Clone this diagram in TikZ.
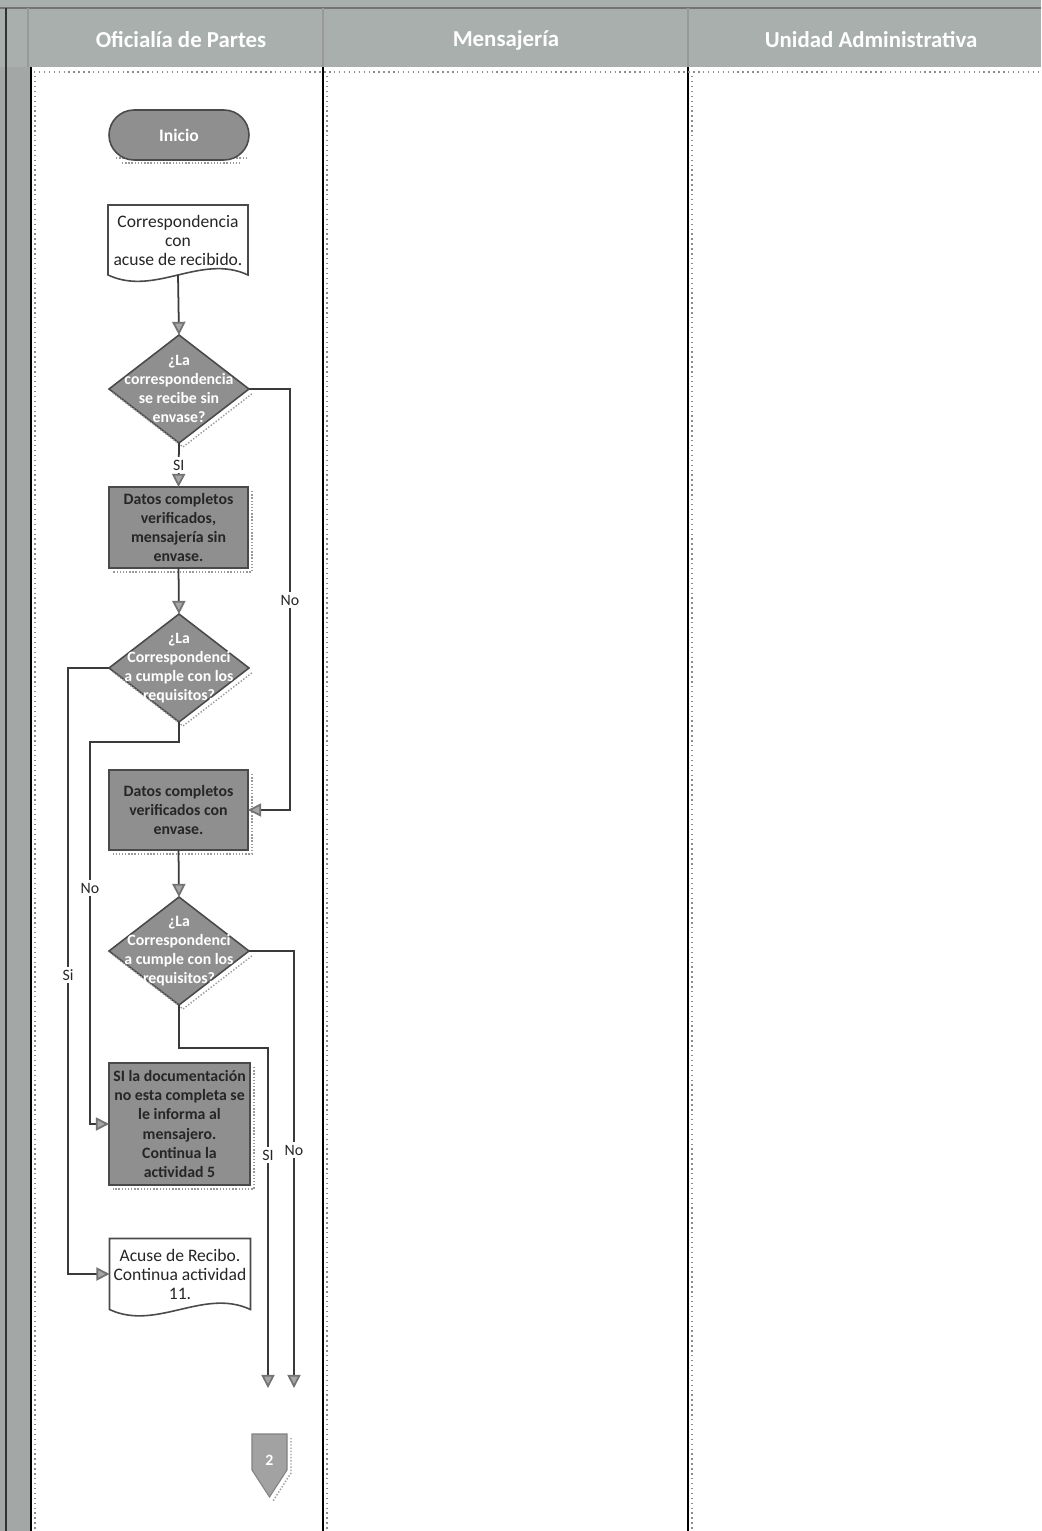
\documentclass[tikz,border=0pt]{standalone}
\usepackage{fontspec}
\setmainfont{Carlito}
\usetikzlibrary{shapes.geometric,arrows.meta,calc}
\definecolor{hdr}{HTML}{A8AFAC}
\definecolor{strip}{HTML}{A3A8A6}
\definecolor{shapefill}{HTML}{8F8F8F}
\definecolor{edgecol}{HTML}{4A4A4A}
\definecolor{linecol}{HTML}{3A3A3A}
\definecolor{connfill}{HTML}{A2A2A2}

\begin{document}
\begin{tikzpicture}[x=0.02cm,y=-0.02cm,
  every node/.style={inner sep=0pt, outer sep=0pt},
  lanetitle/.style={text=white, font=\bfseries\fontsize{13}{15}\selectfont},
  terminal/.style={rectangle, rounded corners=0.5cm, draw=edgecol, line width=0.9pt,
    fill=shapefill, minimum width=2.8cm, minimum height=1cm, text=white,
    font=\bfseries\fontsize{10}{12}\selectfont},
  docbox/.style={rectangle, minimum width=2.8cm, align=center,
    font=\fontsize{10}{10.8}\selectfont, text=black!85},
  docline/.style={draw=edgecol, line width=0.9pt, fill=white},
  procbox/.style={rectangle, draw=edgecol, line width=0.9pt, fill=shapefill,
    minimum width=2.78cm, align=center, font=\bfseries\fontsize{9}{10.9}\selectfont,
    text=black!85},
  decision/.style={diamond, draw=edgecol, line width=0.9pt, fill=shapefill,
    minimum width=2.8cm, minimum height=2.16cm},
  dectext/.style={align=center, font=\bfseries\fontsize{9}{10.9}\selectfont, text=white},
  flow/.style={draw=linecol, line width=1pt,
    -{Triangle[length=7.5pt,width=7.5pt,fill=black!35,color=black!55]}},
  tag/.style={fill=white, inner sep=1.5pt, font=\fontsize{9}{10}\selectfont, text=black!85},
  shade/.style={draw=black!40, densely dotted, line width=0.8pt},
  gridtick/.style={draw=black!45, dotted, line width=0.8pt}
]
\useasboundingbox (0,0) rectangle (1041,1531);

% ---- swimlane frame ----
\fill[hdr] (0,0) rectangle (1041,67);
\fill[strip] (0,67) rectangle (31,1531);
\fill[white] (31,67) rectangle (1041,1531);
\draw[black!55, line width=0.7pt] (0,8) -- (1041,8);
\draw[black!40, line width=0.6pt] (28,8) -- (28,67) (323,8) -- (323,67) (688,8) -- (688,67);
\draw[black!80, line width=1pt] (6,8) -- (6,1531);
\draw[black, line width=1.1pt] (31,67) -- (31,1531) (323,67) -- (323,1531) (688,67) -- (688,1531);
\draw[gridtick] (34,72) -- (1041,72);
\draw[gridtick] (35,76) -- (35,1531) (327,76) -- (327,1531) (692,76) -- (692,1531);

\node[lanetitle] (t1) at (181,40) {Oficialía de Partes};
\node[lanetitle] (t2) at (506,40) {Mensajería};
\node[lanetitle] (t3) at (871,40) {Unidad Administrativa};

% ---- start ----
\draw[shade] (116,158) -- (246,158) (122,163) -- (240,163);
\node[terminal] (ini) at (179,135) {Inicio};

% ---- document: correspondencia ----
\node[docbox, minimum height=1.4cm] (doc1) at (178,240) {};
\draw[docline] (doc1.north west) -- (doc1.north east) -- (doc1.south east)
  .. controls +(-47,-22) and +(47,22) .. (doc1.south west) -- cycle;
\node[docbox] (doc1t) at (doc1.center) {Correspondencia\\con\\acuse de recibido.};

% ---- decision 1 ----
\node[decision] (d1) at (179,389) {};
\draw[shade] ([shift={(4,4)}]d1.west) -- ([shift={(4,4)}]d1.south) -- ([shift={(4,4)}]d1.east);
\node[dectext] (d1t) at (d1.center) {¿La\\correspondencia\\se recibe sin\\envase?};

% ---- box 1 ----
\node[procbox, minimum height=1.62cm] (b1) at (178.5,527.5) {};
\draw[shade] ([shift={(4,4)}]b1.north east) -- ([shift={(4,4)}]b1.south east) -- ([shift={(4,4)}]b1.south west);
\node[procbox, draw=none, fill=none] (b1t) at (b1.center) {Datos completos\\verificados,\\mensajería sin\\envase.};

% ---- decision 2 ----
\node[decision] (d2) at (179,668) {};
\draw[shade] ([shift={(4,4)}]d2.west) -- ([shift={(4,4)}]d2.south) -- ([shift={(4,4)}]d2.east);
\node[dectext] (d2t) at (d2.center) {¿La\\Correspondenci\\a cumple con los\\requisitos?};

% ---- box 2 ----
\node[procbox, minimum height=1.6cm] (b2) at (178.5,810) {};
\draw[shade] ([shift={(4,4)}]b2.north east) -- ([shift={(4,4)}]b2.south east) -- ([shift={(4,4)}]b2.south west);
\node[procbox, draw=none, fill=none] (b2t) at (b2.center) {Datos completos\\verificados con\\envase.};

% ---- decision 3 ----
\node[decision] (d3) at (179,951) {};
\draw[shade] ([shift={(4,4)}]d3.west) -- ([shift={(4,4)}]d3.south) -- ([shift={(4,4)}]d3.east);
\node[dectext] (d3t) at (d3.center) {¿La\\Correspondenci\\a cumple con los\\requisitos?};

% ---- box 3 ----
\node[procbox, minimum width=2.82cm, minimum height=2.44cm] (b3) at (179.5,1124) {};
\draw[shade] ([shift={(4,4)}]b3.north east) -- ([shift={(4,4)}]b3.south east) -- ([shift={(4,4)}]b3.south west);
\node[procbox, draw=none, fill=none] (b3t) at (b3.center)
  {SI la documentación\\no esta completa se\\le informa al\\mensajero.\\Continua la\\actividad 5};

% ---- document: acuse ----
\node[docbox, minimum width=2.82cm, minimum height=1.42cm] (doc2) at (180,1274) {};
\draw[docline] (doc2.north west) -- (doc2.north east) -- (doc2.south east)
  .. controls +(-47,-22) and +(47,22) .. (doc2.south west) -- cycle;
\node[docbox] (doc2t) at (doc2.center) {Acuse de Recibo.\\Continua actividad\\11.};

% ---- off-page connector ----
\draw[shade] (291,1438) -- (291,1473) -- (273,1501);
\draw[draw=connfill!80!black, line width=0.6pt, fill=connfill]
  (252,1434) -- (287,1434) -- (287,1470) -- (269.5,1497) -- (252,1470) -- cycle;
\node[text=white, font=\bfseries\fontsize{9}{10}\selectfont] (c2) at (269.5,1460) {2};

% ---- connectors ----
\coordinate (e1) at (268,1388);
\coordinate (e2) at (294,1388);

\draw[flow] (doc1.south) -- (d1.north);
\draw[flow] (d1.south) -- (b1.north);
\node[tag] (l1) at ($(d1.south)!0.5!(b1.north)$) {SI};
\draw[flow] (d1.east) -| (290,700) |- (b2.east);
\node[tag] (l2) at (290,600) {No};
\draw[flow] (b1.south) -- (d2.north);
\draw[flow] (d2.west) -| (68,900) |- (doc2.west);
\node[tag] (l3) at (68,975) {Si};
\draw[flow] (d2.south) -- (179,742) -| (90,900) |- (b3.west);
\node[tag] (l4) at (90,888) {No};
\draw[flow] (b2.south) -- (d3.north);
\draw[flow] (d3.east) -| (e2);
\node[tag] (l5) at (294,1150) {No};
\draw[flow] (d3.south) -- (179,1048) -| (e1);
\node[tag] (l6) at (268,1155) {SI};

\end{tikzpicture}
\end{document}
